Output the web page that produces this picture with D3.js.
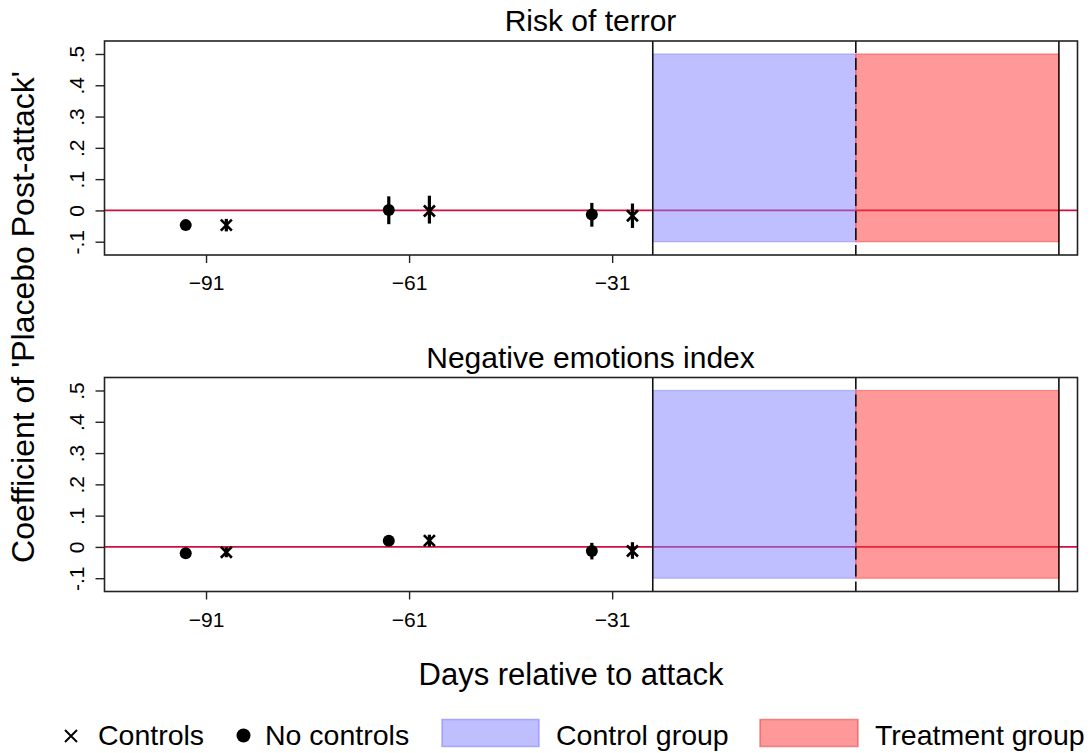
<!DOCTYPE html>
<html><head><meta charset="utf-8">
<script src="https://cdn.jsdelivr.net/npm/d3@7"></script>
<style>body{margin:0;background:#fff} text{font-family:"Liberation Sans",Arial,Helvetica,sans-serif;fill:#000}</style>
</head><body><svg id="c" width="1092" height="753"></svg>
<script>
const panelTitles = ["Risk of terror", "Negative emotions index"];
const xTickValues = [-91, -61, -31];
const yTickValues = [-0.1, 0, 0.1, 0.2, 0.3, 0.4, 0.5];
const yTickLabels = ["-.1", "0", ".1", ".2", ".3", ".4", ".5"];
const daysNoControls = [-94, -64, -34];
const daysControls = [-88, -58, -28];
// Risk of terror
const riskNoCtrl = [-0.047, 0.001, -0.013];
const riskNoCtrlLo = [-0.062, -0.044, -0.052];
const riskNoCtrlHi = [-0.032, 0.045, 0.024];
const riskCtrl = [-0.047, -0.002, -0.017];
const riskCtrlLo = [-0.067, -0.042, -0.056];
const riskCtrlHi = [-0.027, 0.047, 0.022];
// Negative emotions index
const negNoCtrl = [-0.020, 0.020, -0.013];
const negNoCtrlLo = [-0.030, 0.012, -0.040];
const negNoCtrlHi = [-0.010, 0.028, 0.013];
const negCtrl = [-0.017, 0.020, -0.013];
const negCtrlLo = [-0.033, 0.001, -0.038];
const negCtrlHi = [-0.001, 0.039, 0.015];
const controlGroupSpan = [-25, 5];
const treatmentGroupSpan = [5, 35];
const shadeRange = [-0.1, 0.5];
const solidLines = [-25, 35];
const dashedLines = [5];
const legendLabels = ["Controls", "No controls", "Control group", "Treatment group"];
const xTitle = "Days relative to attack";
const yTitle = "Coefficient of 'Placebo Post-attack'";

const svg = d3.select("#c");
const FONT = '"Liberation Sans",Arial,Helvetica,sans-serif';
const blueFill = "rgba(128,128,255,0.5)";
const redFill = "rgba(255,51,51,0.5)";
const zeroColor = "#d01040";

const x = d3.scaleLinear().domain([-106, 37.75]).range([104.5, 1077.5]);
const panels = [
  {top: 41, title: panelTitles[0], nc: [riskNoCtrl, riskNoCtrlLo, riskNoCtrlHi], c: [riskCtrl, riskCtrlLo, riskCtrlHi]},
  {top: 377.5, title: panelTitles[1], nc: [negNoCtrl, negNoCtrlLo, negNoCtrlHi], c: [negCtrl, negCtrlLo, negCtrlHi]}
];
const H = 214;

panels.forEach(p => {
  const y = d3.scaleLinear().domain([-0.1425, 0.5415]).range([p.top + H, p.top]);
  const g = svg.append("g");
  // title
  g.append("text").attr("x", 590.5).attr("y", p.top - 10)
    .attr("text-anchor", "middle").style("font-size", "30px").text(p.title);
  // zero line
  g.append("line").attr("x1", x.range()[0]).attr("x2", x.range()[1])
    .attr("y1", y(0)).attr("y2", y(0)).attr("stroke", zeroColor).attr("stroke-width", 1.6);
  // shaded areas
  [[controlGroupSpan, blueFill], [treatmentGroupSpan, redFill]].forEach(([s, f]) => {
    g.append("rect").attr("x", x(s[0])).attr("width", x(s[1]) - x(s[0]))
      .attr("y", y(shadeRange[1])).attr("height", y(shadeRange[0]) - y(shadeRange[1]))
      .attr("fill", f).attr("stroke", f).attr("stroke-width", 1.2);
  });
  // vertical lines
  solidLines.forEach(d => g.append("line").attr("x1", x(d)).attr("x2", x(d))
    .attr("y1", p.top).attr("y2", p.top + H).attr("stroke", "#111").attr("stroke-width", 1.6));
  dashedLines.forEach(d => g.append("line").attr("x1", x(d)).attr("x2", x(d))
    .attr("y1", p.top).attr("y2", p.top + H).attr("stroke", "#111").attr("stroke-width", 1.6)
    .attr("stroke-dasharray", "12,5"));
  // error bars
  const bars = (days, arr) => days.forEach((d, i) => g.append("line")
    .attr("x1", x(d)).attr("x2", x(d)).attr("y1", y(arr[1][i])).attr("y2", y(arr[2][i]))
    .attr("stroke", "#000").attr("stroke-width", 3.2));
  bars(daysNoControls, p.nc);
  bars(daysControls, p.c);
  // circles
  g.selectAll(null).data(daysNoControls).enter().append("circle")
    .attr("cx", d => x(d)).attr("cy", (d, i) => y(p.nc[0][i])).attr("r", 6).attr("fill", "#000");
  // crosses
  daysControls.forEach((d, i) => {
    const cx = x(d), cy = y(p.c[0][i]), s = 5.5;
    g.append("path").attr("d", `M${cx - s},${cy - s}L${cx + s},${cy + s}M${cx - s},${cy + s}L${cx + s},${cy - s}`)
      .attr("stroke", "#000").attr("stroke-width", 2.6).attr("fill", "none");
  });
  // frame
  g.append("rect").attr("x", x.range()[0]).attr("y", p.top).attr("width", x.range()[1] - x.range()[0])
    .attr("height", H).attr("fill", "none").attr("stroke", "#222").attr("stroke-width", 1.6);
  // y axis
  const ya = g.append("g").attr("transform", `translate(${x.range()[0]},0)`)
    .call(d3.axisLeft(y).tickValues(yTickValues).tickSize(9).tickFormat((d, i) => yTickLabels[i]));
  ya.select(".domain").remove();
  ya.selectAll(".tick line").attr("stroke", "#222").attr("stroke-width", 1.4);
  ya.selectAll(".tick text").attr("x", null).attr("dy", null)
    .attr("transform", "translate(-21,0) rotate(-90)").attr("text-anchor", "middle")
    .style("font-size", "21px").style("font-family", FONT).attr("fill", "#000");
  // x axis
  const xa = g.append("g").attr("transform", `translate(0,${p.top + H})`)
    .call(d3.axisBottom(x).tickValues(xTickValues).tickSize(8).tickFormat(d3.format("d")));
  xa.select(".domain").remove();
  xa.selectAll(".tick line").attr("stroke", "#222").attr("stroke-width", 1.4);
  xa.selectAll(".tick text").attr("y", 35).attr("dy", null)
    .style("font-size", "21px").style("font-family", FONT).attr("fill", "#000");
});

// axis titles
svg.append("text").attr("x", 571).attr("y", 685).attr("text-anchor", "middle")
  .style("font-size", "31px").text(xTitle);
svg.append("text").attr("transform", "translate(34,317) rotate(-90)").attr("text-anchor", "middle")
  .style("font-size", "32px").text(yTitle);

// legend
const ly = 745;
const lg = svg.append("g");
lg.append("path").attr("d", "M65,730L77,742M65,742L77,730").attr("stroke", "#000").attr("stroke-width", 1.9);
lg.append("text").attr("x", 98).attr("y", ly).style("font-size", "28.5px").text(legendLabels[0]);
lg.append("circle").attr("cx", 243.5).attr("cy", 735.5).attr("r", 7).attr("fill", "#000");
lg.append("text").attr("x", 265).attr("y", ly).style("font-size", "28.5px").text(legendLabels[1]);
lg.append("rect").attr("x", 442).attr("y", 719.5).attr("width", 97).attr("height", 27)
  .attr("fill", blueFill).attr("stroke", "rgba(128,128,255,0.6)").attr("stroke-width", 1.5);
lg.append("text").attr("x", 556).attr("y", ly).style("font-size", "28.5px").text(legendLabels[2]);
lg.append("rect").attr("x", 760).attr("y", 719.5).attr("width", 98).attr("height", 27)
  .attr("fill", redFill).attr("stroke", "rgba(230,60,60,0.55)").attr("stroke-width", 1.5);
lg.append("text").attr("x", 875).attr("y", ly).style("font-size", "28.5px").text(legendLabels[3]);
</script></body></html>
